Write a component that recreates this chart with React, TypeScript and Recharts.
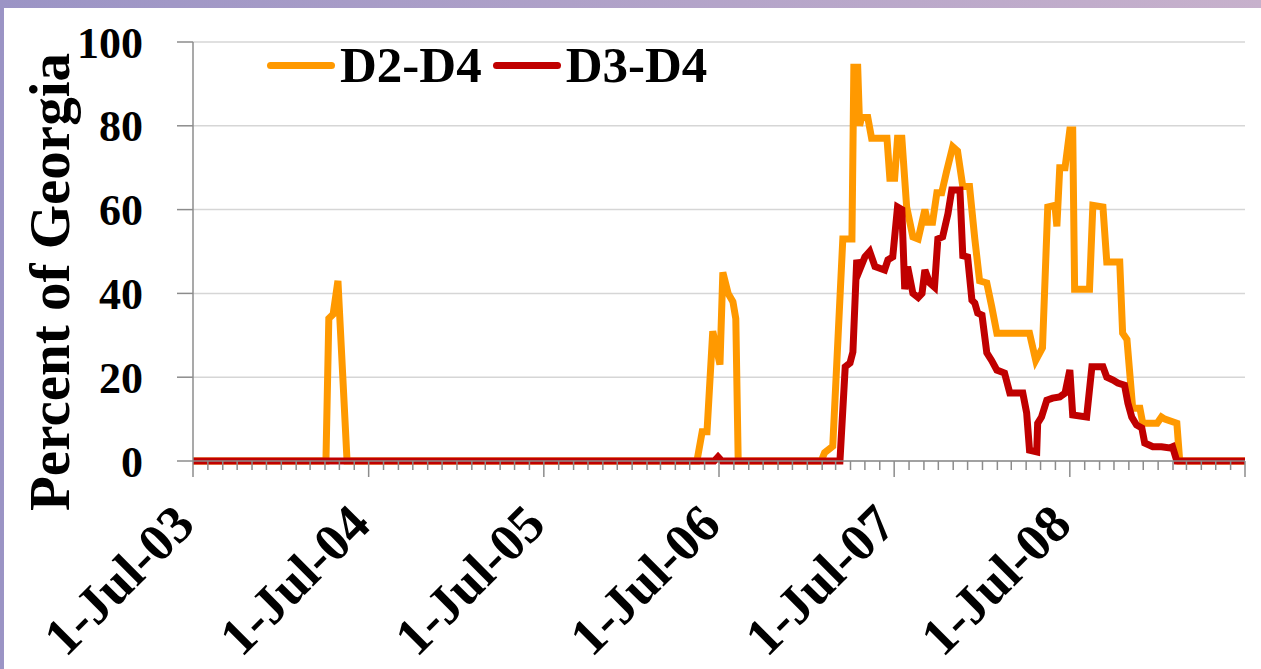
import { CartesianGrid, Legend, Line, LineChart, XAxis, YAxis } from "recharts";

const FONT = "'Liberation Serif', 'Times New Roman', serif";

// weekly drought coverage
const D2_DATES = [
  "2003-07-01", "2004-04-03", "2004-04-09", "2004-04-18", "2004-04-28", "2004-05-17",
  "2006-05-16", "2006-05-27", "2006-06-06", "2006-06-18", "2006-07-03", "2006-07-09",
  "2006-07-20", "2006-07-30", "2006-08-05", "2006-08-10",
  "2007-01-30", "2007-02-06", "2007-02-23", "2007-03-16", "2007-04-04", "2007-04-08",
  "2007-04-16", "2007-04-20", "2007-04-24", "2007-05-07", "2007-05-15", "2007-06-16",
  "2007-06-22", "2007-07-02", "2007-07-08", "2007-07-17", "2007-07-27", "2007-08-09",
  "2007-08-20", "2007-09-03", "2007-09-09", "2007-09-19", "2007-09-28", "2007-10-08",
  "2007-10-18", "2007-10-31", "2007-11-10", "2007-11-21", "2007-12-05", "2007-12-16",
  "2007-12-26", "2008-01-10", "2008-01-20", "2008-01-31", "2008-04-08", "2008-04-21",
  "2008-05-05", "2008-05-16", "2008-05-31", "2008-06-04", "2008-06-10", "2008-06-21",
  "2008-07-01", "2008-07-07", "2008-07-11", "2008-08-11", "2008-08-18", "2008-09-08",
  "2008-09-16", "2008-10-13", "2008-10-19", "2008-10-28", "2008-11-09", "2008-11-24",
  "2008-11-30", "2008-12-30", "2009-01-08", "2009-01-15", "2009-02-09", "2009-02-15",
  "2009-07-01",
];
const D2_VALUES = [
  0, 0, 34, 35, 43, 0,
  0, 7, 7, 31, 23, 45,
  40, 38, 34, 0,
  0, 2, 3.5, 53, 53, 94,
  94, 80, 82, 82, 77, 77,
  67.5, 67.5, 77, 77, 60.6, 53.5,
  53, 60, 57, 57, 64, 64,
  69, 75, 74, 65.5, 65.5, 53,
  43, 42.5, 37, 30.5, 30.5, 24,
  27, 60.6, 61, 56, 70, 70,
  79, 79, 41, 41, 61, 60.6,
  47.5, 47.5, 30.5, 29, 12.6, 12.6,
  9, 9, 10.5, 10, 9, 0,
  0,
];

const D3_DATES = [
  "2003-07-01", "2006-06-21", "2006-06-29", "2006-07-07",
  "2007-03-10", "2007-03-21", "2007-03-31", "2007-04-06", "2007-04-14", "2007-04-20",
  "2007-05-01", "2007-05-11", "2007-05-22", "2007-06-11", "2007-06-18", "2007-06-28",
  "2007-07-08", "2007-07-17", "2007-07-23", "2007-07-29", "2007-08-09", "2007-08-20",
  "2007-08-28", "2007-09-03", "2007-09-13", "2007-09-23", "2007-09-30", "2007-10-10",
  "2007-10-21", "2007-10-29", "2007-11-15", "2007-11-21", "2007-12-01", "2007-12-10",
  "2007-12-16", "2007-12-22", "2007-12-31", "2008-01-10", "2008-01-20", "2008-01-31",
  "2008-02-16", "2008-02-27", "2008-03-25", "2008-04-02", "2008-04-08", "2008-04-23",
  "2008-04-25", "2008-05-03", "2008-05-14", "2008-05-26", "2008-06-10", "2008-06-21",
  "2008-07-01", "2008-07-07", "2008-08-05", "2008-08-16", "2008-09-08", "2008-09-16",
  "2008-09-29", "2008-10-09", "2008-10-23", "2008-10-30", "2008-11-07", "2008-11-17",
  "2008-11-28", "2008-12-04", "2008-12-21", "2009-01-08", "2009-01-25", "2009-01-31",
  "2009-02-09", "2009-07-01",
];
const D3_VALUES = [
  0, 0, 1, 0,
  0, 22.5, 23.4, 26, 48, 45.6,
  48.7, 50, 46.4, 45.6, 48, 48.7,
  60.6, 60, 41, 46.4, 40, 39,
  40, 45.6, 42.5, 41.5, 53, 53.5,
  59, 64.7, 64.7, 49, 48.7, 38.4,
  37.7, 35.3, 34.8, 25.8, 24, 21.7,
  21, 16.2, 16.2, 11.5, 2.6, 2.2,
  9, 10.5, 14.5, 15, 15.3, 16.2,
  21.7, 11, 10.5, 22.5, 22.5, 20,
  19.3, 18.6, 18.1, 13.8, 10.5, 8.6,
  7.9, 4.3, 3.4, 3.4, 3.1, 3.4,
  0, 0,
];

const SERIES_NAMES = ["D2-D4", "D3-D4"];
const SERIES_COLORS = ["#FF9900", "#C00000"];
const Y_TICKS = [0, 20, 40, 60, 80, 100];
const X_LABELS = ["1-Jul-03", "1-Jul-04", "1-Jul-05", "1-Jul-06", "1-Jul-07", "1-Jul-08"];
const FIRST_YEAR = 2003;

const START = Date.UTC(2003, 6, 1);
const END = Date.UTC(2009, 6, 1);
const monthTicks: number[] = [];
for (let k = 0; k <= 72; k++) monthTicks.push(Date.UTC(2003, 6 + k, 1));

const toPoints = (dates: string[], values: number[]) =>
  dates.map((d, i) => ({ t: Date.parse(d), v: values[i] }));

const d2Data = toPoints(D2_DATES, D2_VALUES);
const d3Data = toPoints(D3_DATES, D3_VALUES);

const MonthTick = (props: any) => {
  const { x, y, payload } = props;
  const d = new Date(payload.value);
  const major = d.getUTCMonth() === 6;
  const label = major ? X_LABELS[d.getUTCFullYear() - FIRST_YEAR] : undefined;
  return (
    <g>
      <line x1={x} y1={y} x2={x} y2={y + (major ? 16 : 9)} stroke="#8c8c8c" strokeWidth={1.5} />
      {label && (
        <text
          transform={`translate(${x + 4},${y + 66}) rotate(-45)`}
          textAnchor="end"
          fontFamily={FONT}
          fontWeight="bold"
          fontSize={53}
          fill="#000"
        >
          {label}
        </text>
      )}
    </g>
  );
};

const YTitle = () => (
  <text
    transform="translate(69,282) rotate(-90)"
    textAnchor="middle"
    fontFamily={FONT}
    fontWeight="bold"
    fontSize={57}
    fill="#000"
  >
    Percent of Georgia
  </text>
);

const LegendContent = () => (
  <div
    style={{
      display: "flex",
      alignItems: "center",
      fontFamily: FONT,
      fontWeight: "bold",
      fontSize: 51,
      lineHeight: "51px",
      color: "#000",
    }}
  >
    {SERIES_NAMES.map((name, i) => (
      <div key={name} style={{ display: "flex", alignItems: "center", marginRight: 11 }}>
        <span
          style={{
            display: "inline-block",
            width: 68,
            height: 7,
            borderRadius: 3.5,
            background: SERIES_COLORS[i],
            marginRight: 5,
          }}
        />
        <span>{name}</span>
      </div>
    ))}
  </div>
);

export default function App() {
  return (
    <div
      style={{
        position: "fixed",
        left: 0,
        top: 0,
        width: 1261,
        height: 669,
        background: "linear-gradient(to right, #9b94c5, #c7b1cc)",
      }}
    >
      <div style={{ position: "absolute", left: 4, top: 8, right: 0, bottom: 0, background: "#fff" }} />
      <div style={{ position: "absolute", left: 0, top: 0 }}>
        <LineChart width={1261} height={669} margin={{ top: 42, right: 16, bottom: 8, left: 0 }}>
          <CartesianGrid vertical={false} stroke="#d6d6d6" strokeWidth={1.5} />
          <XAxis
            dataKey="t"
            type="number"
            domain={[START, END]}
            ticks={monthTicks}
            interval={0}
            tick={<MonthTick />}
            tickLine={false}
            tickSize={0}
            tickMargin={0}
            height={200}
            allowDataOverflow
            axisLine={{ stroke: "#8c8c8c", strokeWidth: 1.5 }}
          />
          <YAxis
            domain={[0, 100]}
            ticks={Y_TICKS}
            interval={0}
            width={193}
            tickSize={16}
            tickMargin={34}
            tick={{ fontFamily: FONT, fontWeight: "bold", fontSize: 44, fill: "#000" }}
            tickLine={{ stroke: "#8c8c8c", strokeWidth: 1.5 }}
            axisLine={{ stroke: "#8c8c8c", strokeWidth: 1.5 }}
            label={<YTitle />}
          />
          <Legend
            layout="horizontal"
            verticalAlign="middle"
            align="center"
            content={<LegendContent />}
            wrapperStyle={{ left: 267, top: 40, width: "auto" }}
          />
          <Line
            data={d2Data}
            dataKey="v"
            name={SERIES_NAMES[0]}
            type="linear"
            stroke={SERIES_COLORS[0]}
            strokeWidth={7}
            dot={false}
            isAnimationActive={false}
          />
          <Line
            data={d3Data}
            dataKey="v"
            name={SERIES_NAMES[1]}
            type="linear"
            stroke={SERIES_COLORS[1]}
            strokeWidth={7}
            dot={false}
            isAnimationActive={false}
          />
        </LineChart>
      </div>
    </div>
  );
}
